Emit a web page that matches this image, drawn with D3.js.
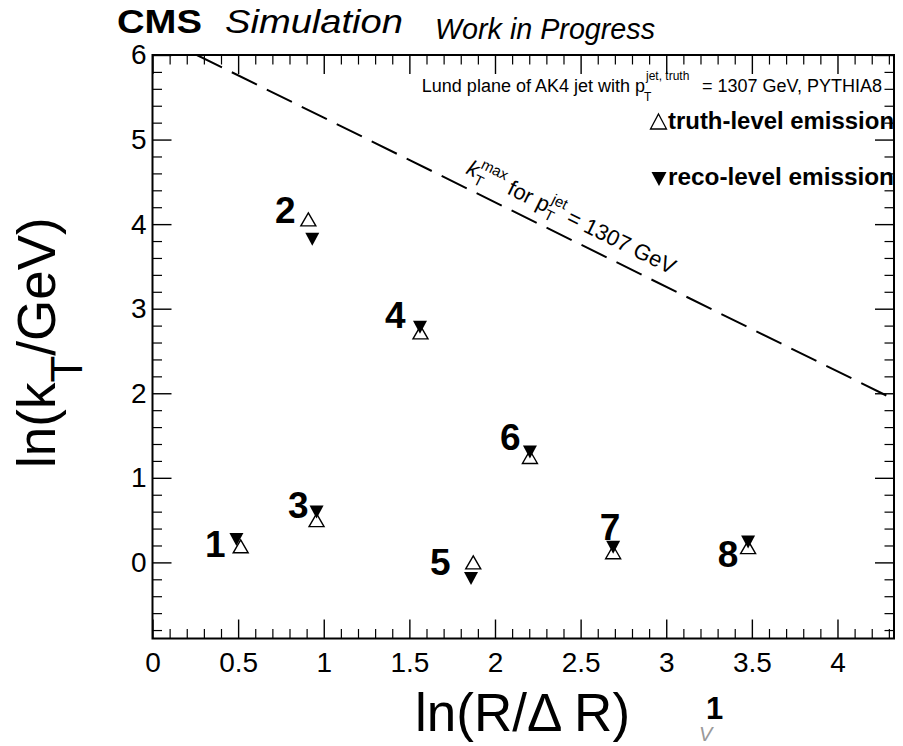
<!DOCTYPE html>
<html>
<head>
<meta charset="utf-8">
<script src="https://cdn.jsdelivr.net/npm/d3@7"></script>
<style>
  body { margin: 0; background: #fff; }
  svg { display: block; }
  text { font-family: "Liberation Sans", Arial, Helvetica, sans-serif; }
</style>
</head>
<body>
<svg id="chart" width="903" height="746"></svg>
<script>
// Lund-plane emissions of one AK4 jet: truth-level vs reco-level
const emissionIds = ["1", "2", "3", "4", "5", "6", "7", "8"];
const truthX = [0.515, 0.910, 0.958, 1.565, 1.873, 2.204, 2.690, 3.478];
const truthY = [0.190, 4.056, 0.500, 2.720, 0.000, 1.246, 0.120, 0.180];
const recoX  = [0.490, 0.933, 0.958, 1.562, 1.860, 2.204, 2.690, 3.478];
const recoY  = [0.270, 3.820, 0.595, 2.780, -0.190, 1.305, 0.180, 0.240];
// where each emission number is written (data coordinates, baseline-left)
const labelX = [0.306, 0.715, 0.791, 1.357, 1.620, 2.029, 2.612, 3.301];
const labelY = [0.060, 4.010, 0.530, 2.770, -0.155, 1.325, 0.260, -0.060];

// kT max boundary for pT(jet) = 1307 GeV, R = 0.4
const kTmaxLine = [[0.259, 6.0], [4.33, 1.929]];

const xTickValues = [0, 0.5, 1, 1.5, 2, 2.5, 3, 3.5, 4];
const xTickLabels = ["0", "0.5", "1", "1.5", "2", "2.5", "3", "3.5", "4"];
const yTickValues = [0, 1, 2, 3, 4, 5, 6];
const yTickLabels = ["0", "1", "2", "3", "4", "5", "6"];

const svg = d3.select("#chart");
const L = 152.5, R = 894, T = 55, B = 638.5;

const x = d3.scaleLinear().domain([0, 4.33]).range([L, R]);
const y = d3.scaleLinear().domain([-0.9, 6]).range([B, T]);

const xMinor = d3.range(0, 44).map(i => i / 10).filter(v => Math.round(v * 10) % 5 !== 0 && v <= 4.33);
const yMinor = d3.range(-4, 31).map(i => i / 5).filter(v => Math.round(v * 5) % 5 !== 0 && v >= -0.9);

function styleAxis(g, tickWidth) {
  g.select(".domain").remove();
  g.selectAll(".tick line").attr("stroke", "#000").attr("stroke-width", tickWidth);
}

// ---- major / minor ticks on all four sides ----
const MAJ = 19, MIN = 9.5;
svg.append("g").attr("transform", `translate(0,${B})`)
  .call(d3.axisBottom(x).tickValues(xTickValues).tickSize(-MAJ).tickPadding(14)
    .tickFormat((d, i) => xTickLabels[i]))
  .call(g => styleAxis(g, 1.4))
  .call(g => g.selectAll(".tick text").attr("font-size", 28).attr("fill", "#000")
    .attr("font-family", "Liberation Sans, Arial, sans-serif"));
svg.append("g").attr("transform", `translate(0,${B})`)
  .call(d3.axisBottom(x).tickValues(xMinor).tickSize(-MIN).tickFormat(""))
  .call(g => styleAxis(g, 1.2));
svg.append("g").attr("transform", `translate(0,${T})`)
  .call(d3.axisTop(x).tickValues(xTickValues).tickSize(-MAJ).tickFormat(""))
  .call(g => styleAxis(g, 1.4));
svg.append("g").attr("transform", `translate(0,${T})`)
  .call(d3.axisTop(x).tickValues(xMinor).tickSize(-MIN).tickFormat(""))
  .call(g => styleAxis(g, 1.2));

svg.append("g").attr("transform", `translate(${L},0)`)
  .call(d3.axisLeft(y).tickValues(yTickValues).tickSize(-MAJ).tickPadding(6)
    .tickFormat((d, i) => yTickLabels[i]))
  .call(g => styleAxis(g, 1.4))
  .call(g => g.selectAll(".tick text").attr("font-size", 28).attr("fill", "#000")
    .attr("font-family", "Liberation Sans, Arial, sans-serif"));
svg.append("g").attr("transform", `translate(${L},0)`)
  .call(d3.axisLeft(y).tickValues(yMinor).tickSize(-MIN).tickFormat(""))
  .call(g => styleAxis(g, 1.2));
svg.append("g").attr("transform", `translate(${R},0)`)
  .call(d3.axisRight(y).tickValues(yTickValues).tickSize(-MAJ).tickFormat(""))
  .call(g => styleAxis(g, 1.4));
svg.append("g").attr("transform", `translate(${R},0)`)
  .call(d3.axisRight(y).tickValues(yMinor).tickSize(-MIN).tickFormat(""))
  .call(g => styleAxis(g, 1.2));

// ---- kT max boundary (dashed) ----
const clipId = "plotClip";
svg.append("clipPath").attr("id", clipId)
  .append("rect").attr("x", L).attr("y", T).attr("width", R - L).attr("height", B - T);
svg.append("path")
  .datum(kTmaxLine)
  .attr("clip-path", `url(#${clipId})`)
  .attr("d", d3.line().x(d => x(d[0])).y(d => y(d[1])))
  .attr("fill", "none").attr("stroke", "#000").attr("stroke-width", 2)
  .attr("stroke-dasharray", "28,11");

const angle = Math.atan2(y(kTmaxLine[1][1]) - y(kTmaxLine[0][1]), x(kTmaxLine[1][0]) - x(kTmaxLine[0][0])) * 180 / Math.PI;
const lineLabel = svg.append("text")
  .attr("transform", `translate(465,173) rotate(${angle})`)
  .attr("font-size", 22).attr("fill", "#000");
lineLabel.append("tspan").attr("font-style", "italic").text("k");
lineLabel.append("tspan").attr("font-size", 15).attr("dy", 6).text("T");
lineLabel.append("tspan").attr("font-size", 15).attr("dx", -9).attr("dy", -17).text("max");
lineLabel.append("tspan").attr("dy", 11).text(" for p");
lineLabel.append("tspan").attr("font-size", 15).attr("dy", 6).text("T");
lineLabel.append("tspan").attr("font-size", 15).attr("dx", -9).attr("dy", -17).text("jet");
lineLabel.append("tspan").attr("dy", 11).text(" = 1307 GeV");

// ---- markers ----
function triUp(w, h) { return `M0,${-h / 2}L${w / 2},${h / 2}L${-w / 2},${h / 2}Z`; }
function triDown(w, h) { return `M0,${h / 2}L${w / 2},${-h / 2}L${-w / 2},${-h / 2}Z`; }

svg.append("g").selectAll("path.reco")
  .data(emissionIds.map((id, i) => ({ id, x: recoX[i], y: recoY[i] })))
  .join("path").attr("class", "reco")
  .attr("d", triDown(14, 13))
  .attr("transform", d => `translate(${x(d.x)},${y(d.y)})`)
  .attr("fill", "#000");

svg.append("g").selectAll("path.truth")
  .data(emissionIds.map((id, i) => ({ id, x: truthX[i], y: truthY[i] })))
  .join("path").attr("class", "truth")
  .attr("d", triUp(15, 13))
  .attr("transform", d => `translate(${x(d.x)},${y(d.y)})`)
  .attr("fill", "none").attr("stroke", "#000").attr("stroke-width", 1.4);

svg.append("g").selectAll("text.emlabel")
  .data(emissionIds.map((id, i) => ({ id, x: labelX[i], y: labelY[i] })))
  .join("text").attr("class", "emlabel")
  .attr("x", d => x(d.x)).attr("y", d => y(d.y))
  .attr("font-size", 37).attr("font-weight", "bold").attr("fill", "#000")
  .text(d => d.id);

// ---- legend ----
svg.append("text").attr("x", 645).attr("y", 92).attr("text-anchor", "end")
  .attr("font-size", 18).text("Lund plane of AK4 jet with p");
svg.append("text").attr("x", 644).attr("y", 101).attr("font-size", 12).text("T");
svg.append("text").attr("x", 646).attr("y", 80).attr("font-size", 12).text("jet, truth");
svg.append("text").attr("x", 882).attr("y", 92).attr("text-anchor", "end")
  .attr("font-size", 18).text("= 1307 GeV, PYTHIA8");

svg.append("path").attr("d", triUp(16, 15)).attr("transform", "translate(658.5,121.5)")
  .attr("fill", "none").attr("stroke", "#000").attr("stroke-width", 1.3);
svg.append("text").attr("x", 668).attr("y", 129).attr("font-size", 23).attr("font-weight", "bold")
  .attr("textLength", 226).attr("lengthAdjust", "spacingAndGlyphs").text("truth-level emission");
svg.append("path").attr("d", triDown(15, 14)).attr("transform", "translate(659,179)")
  .attr("fill", "#000");
svg.append("text").attr("x", 668).attr("y", 185).attr("font-size", 23).attr("font-weight", "bold")
  .attr("textLength", 226).attr("lengthAdjust", "spacingAndGlyphs").text("reco-level emission");

// ---- frame ----
svg.append("rect").attr("x", L).attr("y", T).attr("width", R - L).attr("height", B - T)
  .attr("fill", "none").attr("stroke", "#000").attr("stroke-width", 2);

// ---- axis titles ----
svg.append("text").attr("x", 415).attr("y", 731).attr("font-size", 53).text("ln(R/Δ R)");
const yTitle = svg.append("text").attr("transform", "translate(55,468) rotate(-90)").attr("font-size", 53);
yTitle.append("tspan").text("ln(k");
yTitle.append("tspan").attr("font-size", 44).attr("dy", 27).text("T");
yTitle.append("tspan").attr("dy", -27).text("/GeV)");

// ---- header ----
svg.append("text").attr("x", 117).attr("y", 33).attr("font-size", 33).attr("font-weight", "bold")
  .attr("textLength", 85).attr("lengthAdjust", "spacingAndGlyphs").text("CMS");
svg.append("text").attr("x", 225).attr("y", 33).attr("font-size", 33).attr("font-style", "italic")
  .attr("textLength", 178).attr("lengthAdjust", "spacingAndGlyphs").text("Simulation");
svg.append("text").attr("x", 435).attr("y", 39).attr("font-size", 30).attr("font-style", "italic")
  .attr("font-family", "Open Sans, sans-serif")
  .attr("textLength", 220).attr("lengthAdjust", "spacingAndGlyphs").text("Work in Progress");

// ---- page mark ----
svg.append("text").attr("x", 706).attr("y", 719).attr("font-size", 31).attr("font-weight", "bold").text("1");
svg.append("text").attr("x", 699).attr("y", 741).attr("font-size", 20).attr("font-style", "italic")
  .attr("fill", "#999").text("V");
</script>
</body>
</html>
